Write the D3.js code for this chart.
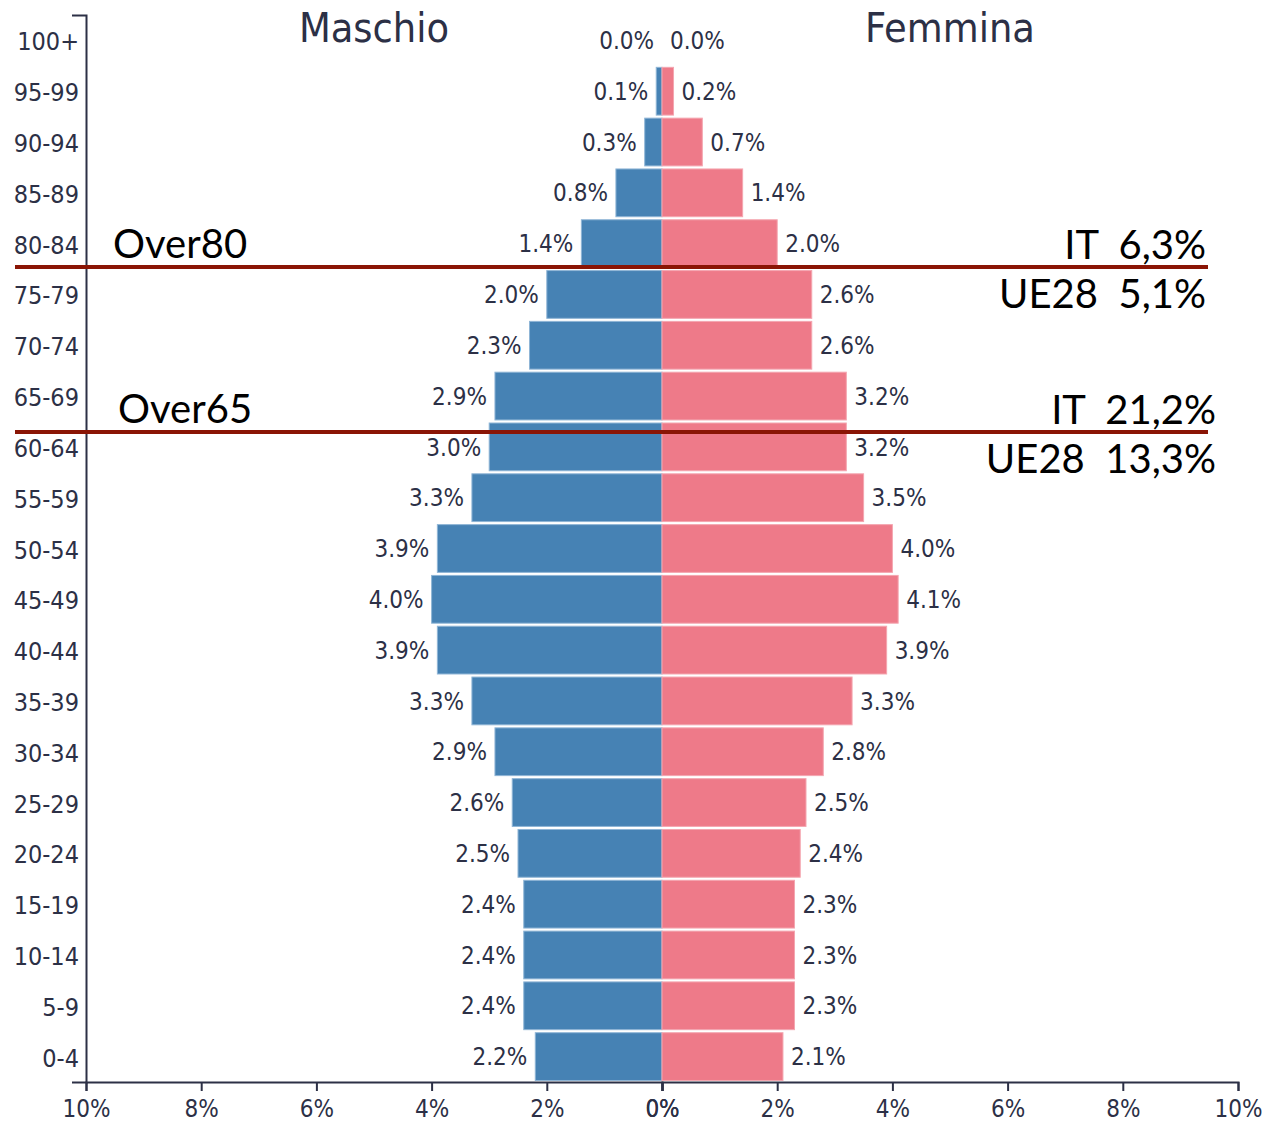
<!DOCTYPE html>
<html>
<head>
<meta charset="utf-8">
<script src="https://cdn.jsdelivr.net/npm/d3@7"></script>
<style>
  body { margin: 0; background: #fff; }
  svg text { font-family: "DejaVu Sans Condensed", "DejaVu Sans", sans-serif; font-stretch: condensed; }
  svg text.note { font-family: Lato, "Open Sans", sans-serif; font-stretch: normal; }
</style>
</head>
<body>
<div id="chart"></div>
<script>
// age groups, top to bottom
const ages = ["100+", "95-99", "90-94", "85-89", "80-84", "75-79", "70-74", "65-69", "60-64", "55-59",
              "50-54", "45-49", "40-44", "35-39", "30-34", "25-29", "20-24", "15-19", "10-14", "5-9", "0-4"];
const male = [0.0, 0.1, 0.3, 0.8, 1.4, 2.0, 2.3, 2.9, 3.0, 3.3, 3.9, 4.0, 3.9, 3.3, 2.9, 2.6, 2.5, 2.4, 2.4, 2.4, 2.2];
const female = [0.0, 0.2, 0.7, 1.4, 2.0, 2.6, 2.6, 3.2, 3.2, 3.5, 4.0, 4.1, 3.9, 3.3, 2.8, 2.5, 2.4, 2.3, 2.3, 2.3, 2.1];
const xTicks = [-10, -8, -6, -4, -2, 0, 2, 4, 6, 8, 10];
const sideTitles = ["Maschio", "Femmina"];
// annotation lines: text left, IT share, UE28 share
const notes = [
  { label: "Over80", it: "IT  6,3%", ue: "UE28  5,1%" },
  { label: "Over65", it: "IT  21,2%", ue: "UE28  13,3%" }
];

const width = 1266, height = 1123;
const ink = "#2c3046";
const blue = "#4682b4", pink = "#ee7a89";

const svg = d3.select("#chart").append("svg")
  .attr("width", width)
  .attr("height", height);

const x = d3.scaleLinear().domain([-10, 10]).range([86, 1238]);
const y = d3.scaleBand().domain(ages).range([15, 1082]).paddingInner(0.06).paddingOuter(0.03);

const rows = ages.map((a, i) => ({ age: a, m: male[i], f: female[i] }));

// bars
svg.append("g").selectAll("rect.m").data(rows).join("rect")
  .attr("x", d => x(-d.m))
  .attr("y", d => y(d.age))
  .attr("width", d => x(0) - x(-d.m))
  .attr("height", y.bandwidth())
  .attr("fill", blue)
  .attr("stroke", "#8fb5d6")
  .attr("stroke-width", 1);

svg.append("g").selectAll("rect.f").data(rows).join("rect")
  .attr("x", x(0))
  .attr("y", d => y(d.age))
  .attr("width", d => x(d.f) - x(0))
  .attr("height", y.bandwidth())
  .attr("fill", pink)
  .attr("stroke", "#f4a6b0")
  .attr("stroke-width", 1);

// value labels
const labels = svg.append("g").attr("fill", ink).attr("font-size", 24);
labels.selectAll("text.m").data(rows).join("text")
  .attr("x", d => x(-d.m) - 8)
  .attr("y", d => y(d.age) + y.bandwidth() / 2)
  .attr("dy", "0.36em")
  .attr("text-anchor", "end")
  .text(d => d.m.toFixed(1) + "%");
labels.selectAll("text.f").data(rows).join("text")
  .attr("x", d => x(d.f) + 8)
  .attr("y", d => y(d.age) + y.bandwidth() / 2)
  .attr("dy", "0.36em")
  .attr("text-anchor", "start")
  .text(d => d.f.toFixed(1) + "%");

// y axis: category labels, no inner ticks
const yAxis = svg.append("g")
  .attr("transform", `translate(${x(-10)},0)`)
  .call(d3.axisLeft(y).tickSize(0).tickSizeOuter(14).tickPadding(7));
yAxis.selectAll("text").attr("font-size", 25).attr("fill", ink).attr("dy", "0.4em");
yAxis.select(".domain").attr("stroke", ink).attr("stroke-width", 2);

// x axis, drawn as two halves like the original (0% overlaps)
[[-10, 0], [0, 10]].forEach(dom => {
  const half = d3.scaleLinear().domain(dom).range([x(dom[0]), x(dom[1])]);
  const g = svg.append("g")
    .attr("transform", `translate(0,1082)`)
    .call(d3.axisBottom(half)
      .tickValues(xTicks.filter(t => t >= dom[0] && t <= dom[1]))
      .tickSize(9).tickSizeOuter(9).tickPadding(9)
      .tickFormat(d => Math.abs(d) + "%"));
  g.selectAll("text").attr("font-size", 24).attr("fill", ink);
  g.selectAll("line").attr("stroke", ink).attr("stroke-width", 2);
  g.select(".domain").attr("stroke", ink).attr("stroke-width", 2);
});

// side titles
svg.append("g").selectAll("text").data(sideTitles).join("text")
  .attr("x", (d, i) => x(i === 0 ? -5 : 5))
  .attr("y", 42)
  .attr("text-anchor", "middle")
  .attr("font-size", 41)
  .attr("fill", ink)
  .text(d => d);

// annotation lines
const lineY = [y("80-84") + y.bandwidth() - 0.5, y("60-64") + 9];
const noteRight = [1206, 1216];
const labelLeft = [113, 118];
notes.forEach((n, i) => {
  const ly = lineY[i];
  svg.append("line")
    .attr("x1", 15).attr("x2", 1208)
    .attr("y1", ly).attr("y2", ly)
    .attr("stroke", "#8a1505")
    .attr("stroke-width", 4);
  const g = svg.append("g")
    .attr("font-size", 40)
    .attr("fill", "#000");
  g.append("text").attr("class", "note").attr("x", labelLeft[i]).attr("y", ly - 9).text(n.label);
  g.append("text").attr("class", "note").attr("x", noteRight[i]).attr("y", ly - 8)
    .attr("text-anchor", "end").style("white-space", "pre").text(n.it);
  g.append("text").attr("class", "note").attr("x", noteRight[i]).attr("y", ly + 41)
    .attr("text-anchor", "end").style("white-space", "pre").text(n.ue);
});
</script>
</body>
</html>
